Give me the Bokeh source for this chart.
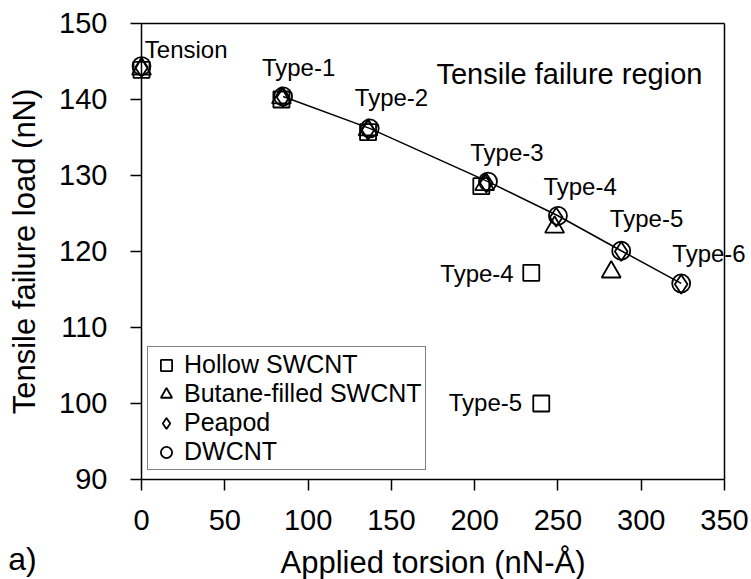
from bokeh.plotting import figure
from bokeh.models import Range1d, FixedTicker, Legend, LegendItem, ColumnDataSource
from bokeh.core.properties import value
from bokeh.embed import file_html
from bokeh.resources import INLINE

# ---- data ----
hollow_x = [0, 84, 136, 204, 234, 240]
hollow_y = [143.9, 140.0, 135.7, 128.6, 117.2, 100.0]
butane_x = [0, 84, 136, 206, 248, 282]
butane_y = [144.0, 140.2, 136.0, 128.8, 123.2, 117.3]
peapod_x = [0, 85, 136, 207, 249, 288, 324]
peapod_y = [144.2, 140.3, 136.0, 129.0, 124.5, 120.0, 115.7]
dwcnt_x = [0, 85, 137, 208, 250, 288, 324]
dwcnt_y = [144.4, 140.4, 136.2, 129.2, 124.7, 120.1, 115.8]

label_text = ["Tension", "Type-1", "Type-2", "Type-3", "Type-4", "Type-5", "Type-6", "Type-4", "Type-5"]
label_x = [2.0, 94.3, 150.1, 219.4, 263.3, 303.2, 340.7, 201.4, 206.5]
label_y = [146.6, 144.2, 140.3, 133.0, 128.55, 124.3, 119.8, 117.1, 100.1]
label_align = ["left"] + ["center"] * 8

region_text = "Tensile failure region"
region_x = [256.9]
region_y = [143.4]

panel_text = "a)"
panel_x = [-80.0]
panel_y = [79.6]

x_ticks = [0, 50, 100, 150, 200, 250, 300, 350]
y_ticks = [90, 100, 110, 120, 130, 140, 150]

FONT = "Liberation Sans"

p = figure(width=751, height=579, frame_width=751, frame_height=579,
           x_range=Range1d(-84.65, 366.21), y_range=Range1d(76.842, 153.026),
           output_backend="svg", toolbar_location=None, min_border=0)
p.background_fill_color = "white"
p.border_fill_color = "white"
p.outline_line_color = None
p.grid.visible = False

# axes, pinned to the data box
xa = p.xaxis[0]
ya = p.yaxis[0]
xa.fixed_location = y_ticks[0]
ya.fixed_location = x_ticks[0]
xa.bounds = (x_ticks[0], x_ticks[-1])
ya.bounds = (y_ticks[0], y_ticks[-1])
xa.ticker = FixedTicker(ticks=x_ticks)
ya.ticker = FixedTicker(ticks=y_ticks)
for ax in (xa, ya):
    ax.minor_tick_line_color = None
    ax.axis_line_color = "black"
    ax.axis_line_width = 1.5
    ax.major_tick_line_color = "black"
    ax.major_tick_line_width = 1.5
    ax.major_tick_out = 11
    ax.major_tick_in = 0
    ax.major_label_text_font = FONT
    ax.major_label_text_font_size = "29px"
    ax.major_label_text_color = "black"
    ax.axis_label_text_font = FONT
    ax.axis_label_text_font_size = "31px"
    ax.axis_label_text_font_style = "normal"
    ax.axis_label_text_color = "black"

xa.major_label_standoff = 20
xa.axis_label = "Applied torsion (nN-Å)"
xa.axis_label_standoff = 11
ya.major_label_standoff = 23
ya.axis_label = "Tensile failure load (nN)"
ya.axis_label_standoff = 14

# top and right sides of the box
p.segment(x0=[x_ticks[0], x_ticks[-1]], y0=[y_ticks[-1], y_ticks[0]],
          x1=[x_ticks[-1], x_ticks[-1]], y1=[y_ticks[-1], y_ticks[-1]],
          line_color="black", line_width=1.5)

# trend line through DWCNT torsion results
p.line(dwcnt_x[1:], dwcnt_y[1:], line_color="black", line_width=1.5)

MS = dict(fill_color=None, line_color="black", line_width=1.8)
r_h = p.scatter(hollow_x, hollow_y, marker="square", size=16, **MS)
r_b = p.scatter(butane_x, butane_y, marker="triangle", size=19, **MS)
r_p = p.scatter(peapod_x, peapod_y, marker="diamond", size=19, **MS)
r_d = p.scatter(dwcnt_x, dwcnt_y, marker="circle", size=18, **MS)

src = ColumnDataSource(dict(x=label_x, y=label_y, t=label_text, a=label_align))
p.text(x="x", y="y", text="t", text_align="a", source=src, text_font=value(FONT),
       text_font_size="24px", text_baseline="middle", text_color="black")
p.text(x=region_x, y=region_y, text=[region_text], text_font=value(FONT), text_font_size="29px",
       text_align="center", text_baseline="middle", text_color="black")
p.text(x=panel_x, y=panel_y, text=[panel_text], text_font=value(FONT), text_font_size="32px",
       text_align="left", text_baseline="middle", text_color="black")

legend = Legend(items=[
    LegendItem(label="Hollow SWCNT", renderers=[r_h]),
    LegendItem(label="Butane-filled SWCNT", renderers=[r_b]),
    LegendItem(label="Peapod", renderers=[r_p]),
    LegendItem(label="DWCNT", renderers=[r_d]),
], location=(147, 109))
legend.label_text_font = FONT
legend.label_text_font_size = "25px"
legend.label_text_color = "black"
legend.label_height = 28
legend.glyph_height = 28
legend.glyph_width = 30
legend.label_standoff = 3
legend.spacing = 0
legend.padding = 3
legend.margin = 0
legend.border_line_color = "black"
legend.border_line_width = 1.5
legend.background_fill_alpha = 1
p.add_layout(legend, "center")

open("out.html", "w").write(file_html(p, INLINE))
